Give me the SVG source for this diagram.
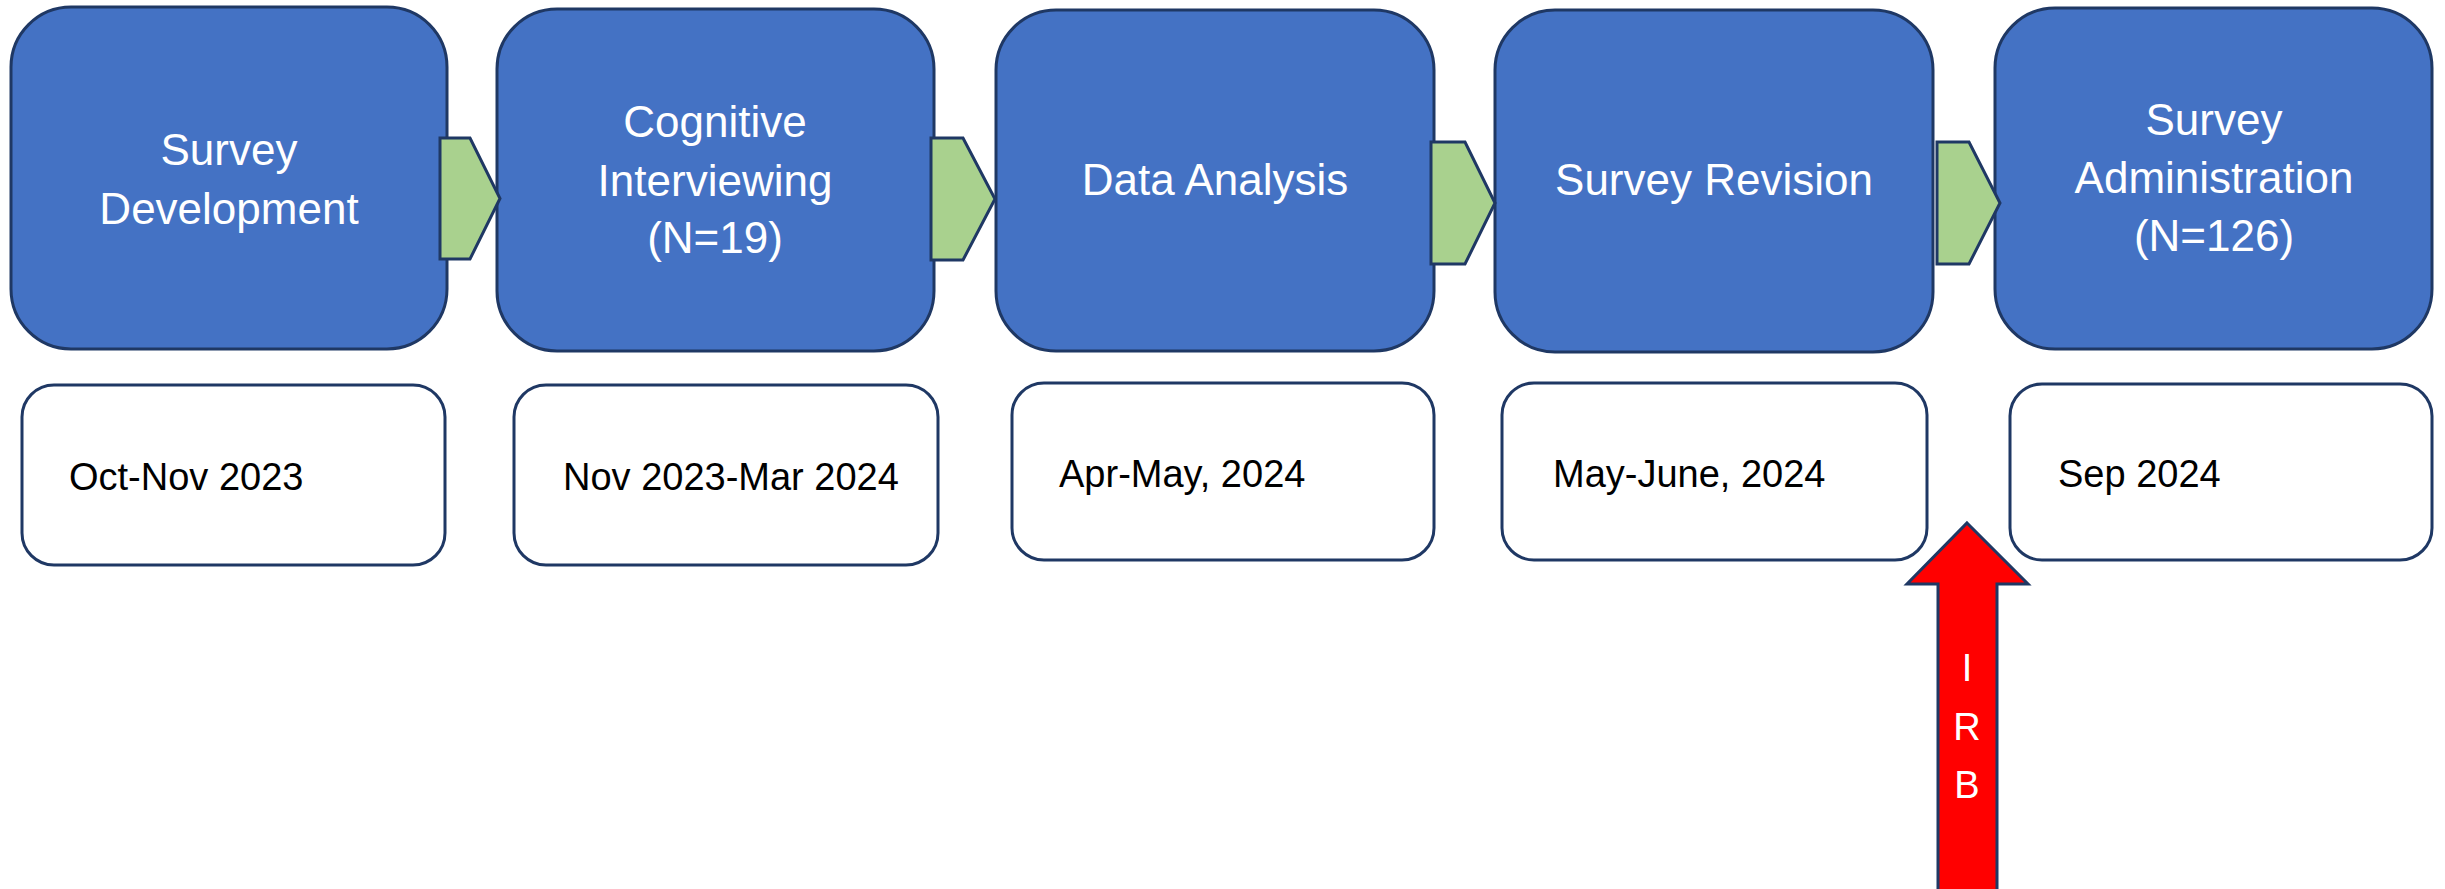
<svg xmlns="http://www.w3.org/2000/svg" width="2445" height="889" viewBox="0 0 2445 889">
  <style>
    .stage { fill: #4472C4; stroke: #1F3864; stroke-width: 3; }
    .date { fill: #FFFFFF; stroke: #1F3864; stroke-width: 3; }
    .step { fill: #A9D18E; stroke: #1F3864; stroke-width: 3; stroke-linejoin: miter; }
    .irb { fill: #FF0000; stroke: #1F3864; stroke-width: 3; }
    .stage-text { font-family: "Liberation Sans", Arial, sans-serif; font-size: 44px; fill: #FFFFFF; text-anchor: middle; }
    .date-text { font-family: "Liberation Sans", Arial, sans-serif; font-size: 38px; fill: #000000; }
    .irb-text { font-family: "Liberation Sans", Arial, sans-serif; font-size: 38px; fill: #FFFFFF; text-anchor: middle; }
  </style>
  <rect width="2445" height="889" fill="#FFFFFF"/>

  <!-- Stage boxes -->
  <g id="stage-development">
    <rect class="stage" x="11" y="7" width="436" height="342" rx="60" ry="60"/>
    <text class="stage-text" x="229" y="165">Survey</text>
    <text class="stage-text" x="229" y="224">Development</text>
  </g>
  <g id="stage-interviewing">
    <rect class="stage" x="497" y="9" width="437" height="342" rx="60" ry="60"/>
    <text class="stage-text" x="715" y="137">Cognitive</text>
    <text class="stage-text" x="715" y="196">Interviewing</text>
    <text class="stage-text" x="715" y="253">(N=19)</text>
  </g>
  <g id="stage-analysis">
    <rect class="stage" x="996" y="10" width="438" height="341" rx="60" ry="60"/>
    <text class="stage-text" x="1215" y="195">Data Analysis</text>
  </g>
  <g id="stage-revision">
    <rect class="stage" x="1495" y="10" width="438" height="342" rx="60" ry="60"/>
    <text class="stage-text" x="1714" y="195">Survey Revision</text>
  </g>
  <g id="stage-administration">
    <rect class="stage" x="1995" y="8" width="437" height="341" rx="60" ry="60"/>
    <text class="stage-text" x="2214" y="135">Survey</text>
    <text class="stage-text" x="2214" y="193">Administration</text>
    <text class="stage-text" x="2214" y="251">(N=126)</text>
  </g>

  <!-- Date boxes -->
  <g id="date-development">
    <rect class="date" x="22" y="385" width="423" height="180" rx="32" ry="32"/>
    <text class="date-text" x="69" y="490">Oct-Nov 2023</text>
  </g>
  <g id="date-interviewing">
    <rect class="date" x="514" y="385" width="424" height="180" rx="32" ry="32"/>
    <text class="date-text" x="563" y="490">Nov 2023-Mar 2024</text>
  </g>
  <g id="date-analysis">
    <rect class="date" x="1012" y="383" width="422" height="177" rx="32" ry="32"/>
    <text class="date-text" x="1059" y="487">Apr-May, 2024</text>
  </g>
  <g id="date-revision">
    <rect class="date" x="1502" y="383" width="425" height="177" rx="32" ry="32"/>
    <text class="date-text" x="1553" y="487">May-June, 2024</text>
  </g>
  <g id="date-administration">
    <rect class="date" x="2010" y="384" width="422" height="176" rx="32" ry="32"/>
    <text class="date-text" x="2058" y="487">Sep 2024</text>
  </g>

  <!-- Connectors between stages -->
  <g id="connectors">
    <polygon class="step" points="440,138 470,138 500,198.5 470,259 440,259"/>
    <polygon class="step" points="931,138 963,138 995,199 963,260 931,260"/>
    <polygon class="step" points="1431,142 1465,142 1495,203 1465,264 1431,264"/>
    <polygon class="step" points="1937,142 1969,142 2000,203 1969,264 1937,264"/>
  </g>

  <!-- IRB approval arrow -->
  <g id="irb-arrow">
    <polygon class="irb" points="1967,523 2028,584 1997,584 1997,895 1938,895 1938,584 1907,584"/>
    <text class="irb-text" x="1967" y="681">I</text>
    <text class="irb-text" x="1967" y="740">R</text>
    <text class="irb-text" x="1967" y="798">B</text>
  </g>
</svg>
